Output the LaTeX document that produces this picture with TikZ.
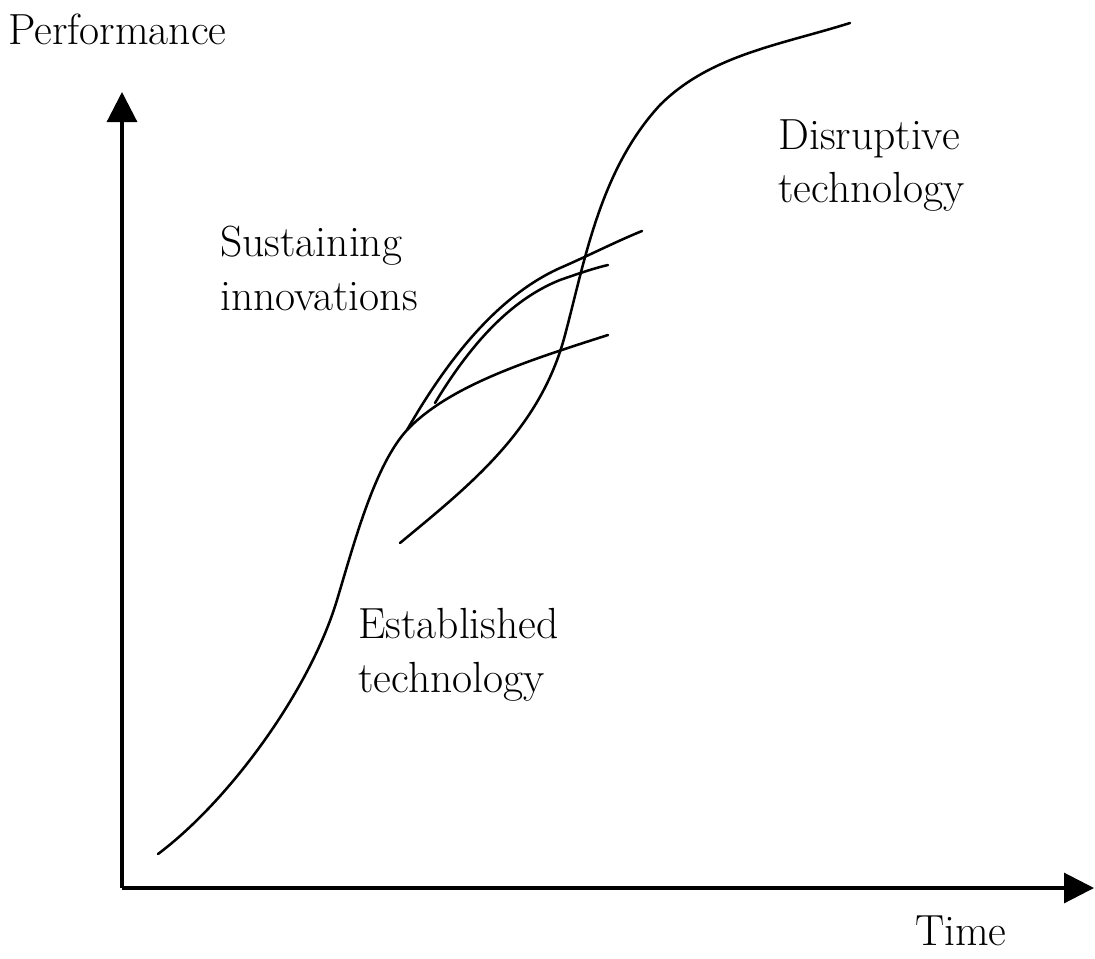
\documentclass[tikz,border=0pt]{standalone}
\usepackage{xcolor}
\usetikzlibrary{arrows.meta,calc,positioning}

\begin{document}
\begin{tikzpicture}[x=0.025cm, y=-0.025cm]
			\tikzstyle{every node}=[font=\fontsize{31}{38}\selectfont, inner sep=0pt, align=left]
			\tikzstyle{axis}=[line width=2.2pt, -{Triangle[width=0.75cm, length=0.75cm]}]
			\tikzstyle{curve}=[line width=1.8pt, line cap=round]
			\useasboundingbox (0,0) rectangle (1095,958);
			% axes
			\coordinate (origin) at (122,888);
			\coordinate (ytip) at (122,92);
			\coordinate (xtip) at (1094,888);
			\draw [axis] (origin) -- (ytip);
			\draw [axis] (origin) -- (xtip);
			% established technology
			\coordinate (fork) at (407,430);
			\draw [curve] (158,854) .. controls (230,800) and (310,690) .. (337,600) .. controls (355,540) and (375,465) .. (fork) .. controls (450,385) and (530,360) .. (608,335);
			% sustaining innovations
			\draw [curve] (fork) .. controls (450,355) and (500,295) .. (560,268) .. controls (590,255) and (615,242) .. (642,231);
			\draw [curve] (435,403) .. controls (470,345) and (510,300) .. (560,280) .. controls (580,273) and (595,268) .. (608,265);
			% disruptive technology
			\draw [curve] (400,543) .. controls (470,485) and (540,430) .. (565,335) .. controls (585,260) and (600,170) .. (660,105) .. controls (710,55) and (780,45) .. (850,23);
			% labels
			\node [anchor=base west] (perf) at (8,45) {Performance};
			\node [anchor=base west] (time) at (915,945) {Time};
			\node [anchor=base west] (disrupt) at (778,203) {Disruptive\\technology};
			\node [anchor=base west] (sustain) at (220,310) {Sustaining\\innovations};
			\node [anchor=base west] (establ) at (358,692) {Established\\technology};
	\end{tikzpicture}
\end{document}
